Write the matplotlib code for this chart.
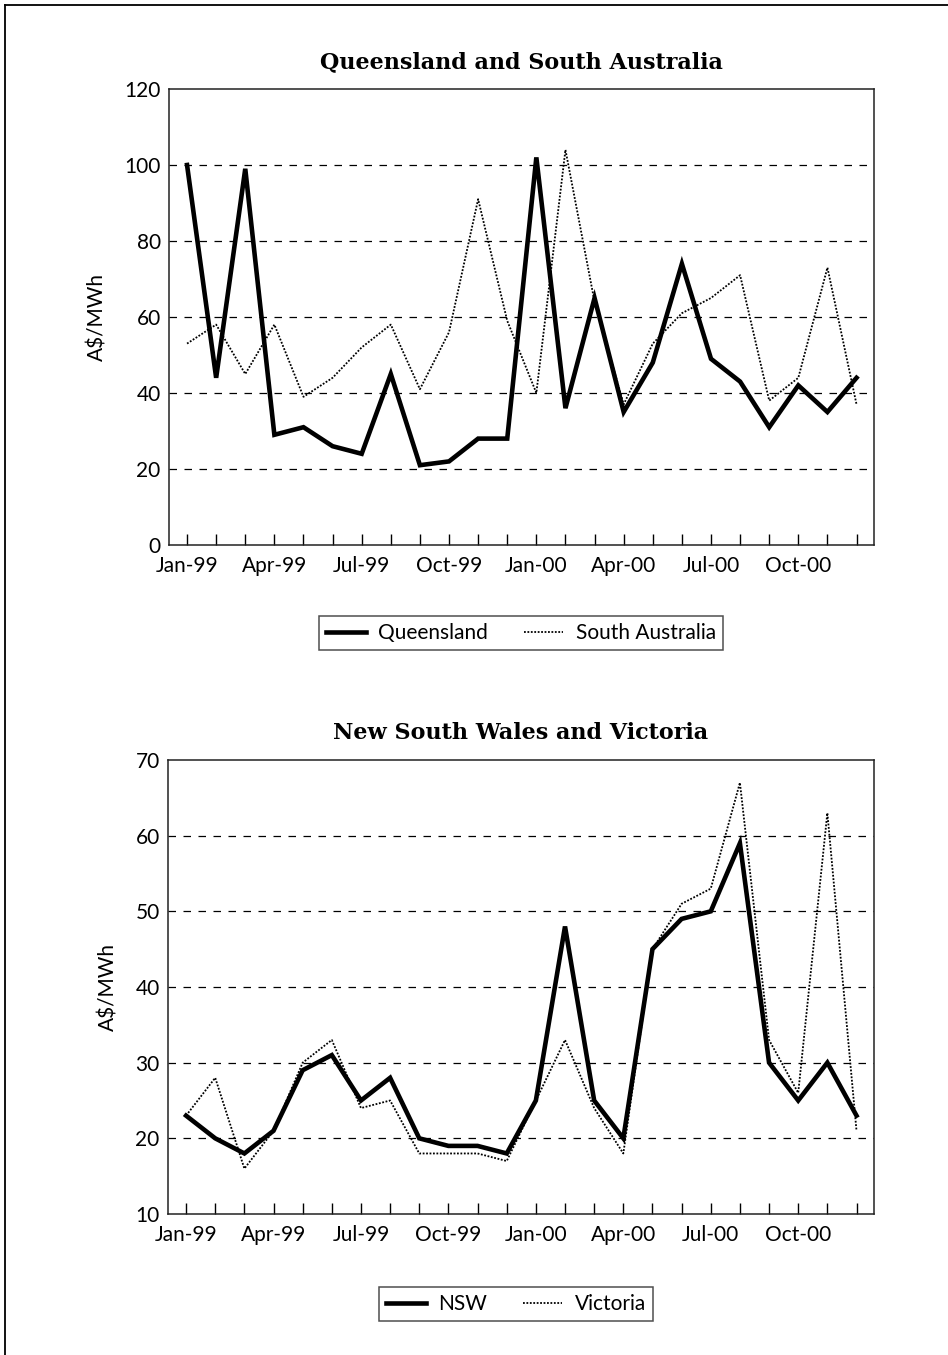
import matplotlib
matplotlib.use("Agg")
import matplotlib.pyplot as plt
from matplotlib.lines import Line2D

months = ["Jan-99", "Feb-99", "Mar-99", "Apr-99", "May-99", "Jun-99", "Jul-99", "Aug-99",
          "Sep-99", "Oct-99", "Nov-99", "Dec-99", "Jan-00", "Feb-00", "Mar-00", "Apr-00",
          "May-00", "Jun-00", "Jul-00", "Aug-00", "Sep-00", "Oct-00", "Nov-00", "Dec-00"]

queensland = [100, 44, 99, 29, 31, 26, 24, 45, 21, 22, 28, 28,
              102, 36, 65, 35, 48, 74, 49, 43, 31, 42, 35, 44]
south_australia = [53, 58, 45, 58, 39, 44, 52, 58, 41, 56, 91, 59,
                   40, 104, 64, 37, 53, 61, 65, 71, 38, 44, 73, 37]

nsw = [23, 20, 18, 21, 29, 31, 25, 28, 20, 19, 19, 18,
       25, 48, 25, 20, 45, 49, 50, 59, 30, 25, 30, 23]
victoria = [23, 28, 16, 21, 30, 33, 24, 25, 18, 18, 18, 17,
            25, 33, 24, 18, 45, 51, 53, 67, 33, 26, 63, 21]

top_yticks = [0, 20, 40, 60, 80, 100, 120]
bot_yticks = [10, 20, 30, 40, 50, 60, 70]

TICK_FONT = "Lato"
TITLE_FONT = "DejaVu Serif"
FS = 15

W, H = 948, 1355
fig = plt.figure(figsize=(W / 100, H / 100), dpi=100)
# page frame: top and left edges only
fig.lines.append(Line2D([4.5 / W, 1.0], [1 - 4.5 / H, 1 - 4.5 / H], transform=fig.transFigure,
                        color="black", linewidth=1.3))
fig.lines.append(Line2D([4.5 / W, 4.5 / W], [1 - 4.5 / H, 0.0], transform=fig.transFigure,
                        color="black", linewidth=1.3))


def px_axes(left, top, right, bottom):
    return fig.add_axes([left / W, 1 - bottom / H, (right - left) / W, (bottom - top) / H])


def style_axes(ax, yticks, title, s1, s2, n1, n2, legend_center):
    x = list(range(len(months)))
    ax.plot(x, s1, color="black", linewidth=3.3, solid_joinstyle="miter", label=n1, zorder=3)
    ax.plot(x, s2, color="black", linewidth=1.3, linestyle=(0, (1.0, 0.9)), label=n2, zorder=3)
    ax.set_xlim(-0.62, 23.6)
    ax.set_ylim(yticks[0], yticks[-1])
    ax.set_yticks(yticks)
    ax.set_yticklabels([str(v) for v in yticks], fontsize=FS, family=TICK_FONT)
    ax.set_xticks(x)
    ax.set_xticklabels([m if i % 3 == 0 else "" for i, m in enumerate(months)],
                       fontsize=FS, family=TICK_FONT)
    ax.tick_params(axis="x", direction="in", length=8, width=1, pad=8)
    ax.tick_params(axis="y", direction="in", length=0, width=1, pad=6)
    for yv in yticks[1:-1]:
        ax.axhline(yv, color="black", linewidth=0.9, linestyle=(0, (6, 6)), zorder=1)
    for sp in ax.spines.values():
        sp.set_color("#222222")
        sp.set_linewidth(1.1)
    ax.set_ylabel("A$/MWh", fontsize=FS, family=TICK_FONT, labelpad=12)
    ax.set_title(title, fontsize=16, family=TITLE_FONT, fontweight="bold", pad=15)
    leg = ax.legend(loc="center", bbox_to_anchor=legend_center, bbox_transform=fig.transFigure,
                    ncol=2, frameon=True, fancybox=False, prop={"family": TICK_FONT, "size": FS},
                    handlelength=1.9, columnspacing=1.7, borderpad=0.35, handletextpad=0.6,
                    borderaxespad=0)
    leg.get_frame().set_edgecolor("#222222")
    leg.get_frame().set_linewidth(1.1)


ax1 = px_axes(169, 89, 874, 545)
style_axes(ax1, top_yticks, "Queensland and South Australia", queensland, south_australia,
           "Queensland", "South Australia", (521 / W, 1 - 633 / H))

ax2 = px_axes(168, 760, 874, 1214)
style_axes(ax2, bot_yticks, "New South Wales and Victoria", nsw, victoria,
           "NSW", "Victoria", (516 / W, 1 - 1304 / H))

fig.savefig("out.png", dpi=100)
